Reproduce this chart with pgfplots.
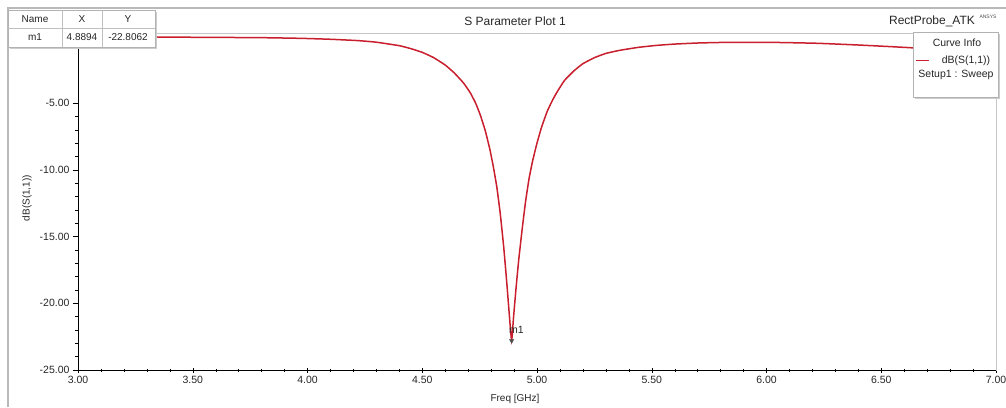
\documentclass[border=0pt]{standalone}
\usepackage{fontspec}
\setmainfont{Liberation Sans}
\usepackage{pgfplots}
\pgfplotsset{compat=1.18}
\definecolor{curve}{RGB}{200,30,45}
\pgfplotstableread{
x y
3.00 -0.05
3.20 -0.05
3.40 -0.06
3.60 -0.08
3.80 -0.10
3.97 -0.15
4.10 -0.22
4.22 -0.32
4.30 -0.44
4.40 -0.70
4.45 -0.92
4.50 -1.20
4.55 -1.60
4.60 -2.15
4.64 -2.75
4.68 -3.50
4.71 -4.25
4.735 -5.10
4.755 -6.00
4.775 -7.10
4.795 -8.50
4.81 -9.80
4.825 -11.30
4.84 -13.30
4.855 -15.80
4.868 -18.40
4.88 -21.00
4.8894 -22.8062
4.898 -21.00
4.908 -19.00
4.92 -16.80
4.935 -14.50
4.95 -12.40
4.965 -10.70
4.98 -9.40
5.00 -8.00
5.02 -6.80
5.045 -5.60
5.07 -4.70
5.09 -4.10
5.12 -3.30
5.16 -2.60
5.20 -2.05
5.25 -1.60
5.30 -1.28
5.36 -1.05
5.44 -0.83
5.52 -0.68
5.60 -0.58
5.70 -0.50
5.80 -0.46
5.93 -0.45
6.05 -0.46
6.22 -0.52
6.40 -0.65
6.55 -0.78
6.70 -0.92
6.85 -1.02
7.00 -1.12
}\sparam
\begin{document}
\begin{tikzpicture}[x=1pt,y=1pt]
\path[use as bounding box] (0,0) rectangle (1006,407);
\draw[gray!55, line width=1.5pt] (8,0) -- (8,399) -- (1006,399);
\begin{axis}[at={(78pt,37pt)}, anchor=south west, scale only axis,
  width=918pt, height=337pt,
  xmin=3, xmax=7, ymin=-25, ymax=0.25,
  xtick={3,3.5,4,4.5,5,5.5,6,6.5,7}, ytick={-25,-20,-15,-10,-5},
  minor x tick num=4, minor y tick num=4,
  /pgf/number format/.cd, fixed, fixed zerofill, precision=2, assume math mode=true, /pgfplots/.cd,
  tick label style={font=\fontsize{10.5}{12}\selectfont, text=black!85},
  axis line style={gray!45},
  major tick style={black, thin},
  minor tick style={black, thin},
  major tick length=5pt, minor tick length=3pt,
  ytick align=outside, xtick align=center,
  xtick pos=bottom, ytick pos=left,
  xlabel={Freq [GHz]}, ylabel={dB(S(1,1))},
  label style={font=\fontsize{10}{12}\selectfont, text=black!85},
  xlabel style={at={(axis description cs:0.476,-0.086)}, anchor=center},
  ylabel style={at={(axis description cs:-0.0556,0.51)}, anchor=center},
  clip=false,
]
\draw[black, line width=0.9pt] (rel axis cs:0,1) -- (rel axis cs:0,0) -- (rel axis cs:1,0);
\addplot[curve, line width=1.5pt, smooth, tension=0.25] table[x=x,y=y] {\sparam};
\addplot[only marks, mark=triangle*, mark size=2.5pt, mark options={rotate=180, fill=black!70, draw=black!70}] coordinates {(4.8894,-22.8062)};
\node[anchor=base west, xshift=-6pt, yshift=7pt, font=\fontsize{10.5}{12}\selectfont, text=black!85] at (axis cs:4.8894,-22.8062) {m1};
\end{axis}
% title texts
\node[font=\fontsize{12}{14}\selectfont, text=black!85] at (515,386) {S Parameter Plot 1};
\node[font=\fontsize{12}{14}\selectfont, text=black!85] at (932,386) {RectProbe\_ATK};
\node[font=\fontsize{5}{6}\selectfont, text=black!70] at (988,390) {ANSYS};
% marker table
\fill[gray!40] (10,358) rectangle (157,395);
\draw[gray!60, fill=white] (8,397) rectangle (155,360);
\draw[gray!50] (8,379) -- (155,379) (62,397) -- (62,360) (102,397) -- (102,360);
\begin{scope}[font=\fontsize{10}{11}\selectfont, text=black!85]
\node at (35,388) {Name};
\node at (82,388) {X};
\node at (128,388) {Y};
\node at (35,369.5) {m1};
\node at (82,369.5) {4.8894};
\node at (128,369.5) {-22.8062};
\end{scope}
% legend
\fill[gray!40] (915,308) rectangle (1000,373);
\draw[gray!60, fill=white] (913,375) rectangle (998,310);
\begin{scope}[font=\fontsize{10.5}{12}\selectfont, text=black!85]
\node at (957,364) {Curve Info};
\draw[curve, line width=1pt] (916,346) -- (929,346);
\node at (966,346) {dB(S(1,1))};
\node at (956,332) {Setup1 : Sweep};
\end{scope}
\end{tikzpicture}
\end{document}
